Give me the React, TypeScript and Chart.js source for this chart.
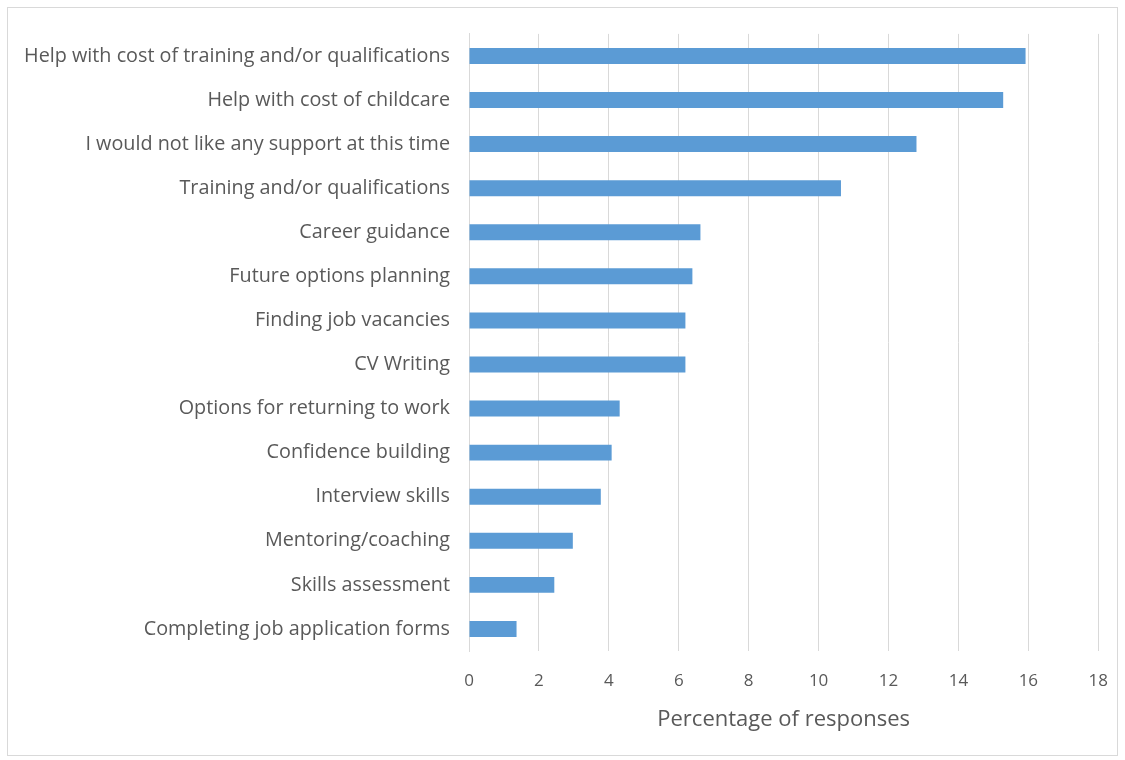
import React, { useEffect, useRef } from "react";
import { Chart, registerables } from "chart.js";

Chart.register(...registerables);

const categories = [
  "Help with cost of training and/or qualifications",
  "Help with cost of childcare",
  "I would not like any support at this time",
  "Training and/or qualifications",
  "Career guidance",
  "Future options planning",
  "Finding job vacancies",
  "CV Writing",
  "Options for returning to work",
  "Confidence building",
  "Interview skills",
  "Mentoring/coaching",
  "Skills assessment",
  "Completing job application forms",
];

const percentages = [15.92, 15.28, 12.8, 10.64, 6.62, 6.39, 6.19, 6.19, 4.31, 4.08, 3.77, 2.97, 2.44, 1.36];

const xAxisTitle = "Percentage of responses";
const xMin = 0;
const xMax = 18;
const xStep = 2;

const FONT = "'Open Sans', 'DejaVu Sans', sans-serif";
const TEXT = "#595959";
const GRID = "#d9d9d9";

export default function App() {
  const ref = useRef<HTMLCanvasElement | null>(null);

  useEffect(() => {
    if (!ref.current) return;
    const chart = new Chart(ref.current, {
      type: "bar",
      data: {
        labels: categories,
        datasets: [
          {
            data: percentages,
            backgroundColor: "#5b9bd5",
            borderColor: "#5b9bd5",
            borderWidth: 0,
            barPercentage: 0.362,
            categoryPercentage: 1,
          },
        ],
      },
      options: {
        indexAxis: "y",
        animation: false,
        responsive: false,
        maintainAspectRatio: false,
        layout: { padding: { left: 0, top: 0, right: 0, bottom: 0 } },
        plugins: {
          legend: { display: false },
          tooltip: { enabled: false },
        },
        scales: {
          x: {
            min: xMin,
            max: xMax,
            ticks: {
              stepSize: xStep,
              color: TEXT,
              font: { family: FONT, size: 17 },
              padding: 20,
            },
            grid: { color: GRID, lineWidth: 1, drawTicks: false },
            border: { display: false },
            title: {
              display: true,
              text: xAxisTitle,
              color: TEXT,
              font: { family: FONT, size: 22 },
              padding: { top: 0, bottom: 22 },
            },
            afterFit: (scale: any) => {
              scale.height = 104;
            },
          },
          y: {
            ticks: {
              color: TEXT,
              font: { family: FONT, size: 19.8 },
              padding: 19,
            },
            grid: { display: false, drawTicks: false },
            border: { display: true, color: GRID, width: 1 },
            afterFit: (scale: any) => {
              scale.width = 461;
            },
          },
        },
      },
    });
    return () => chart.destroy();
  }, []);

  return (
    <div
      style={{
        position: "absolute",
        left: 0,
        top: 0,
        width: 1125,
        height: 760,
        background: "#fff",
        overflow: "hidden",
      }}
    >
      <div
        style={{
          position: "absolute",
          left: 7,
          top: 7,
          width: 1111,
          height: 749,
          border: "1px solid #d9d9d9",
          boxSizing: "border-box",
        }}
      />
      <canvas
        ref={ref}
        width={1120}
        height={752}
        style={{ position: "absolute", left: 8, top: 3, display: "block", width: 1120, height: 752 }}
      />
    </div>
  );
}
